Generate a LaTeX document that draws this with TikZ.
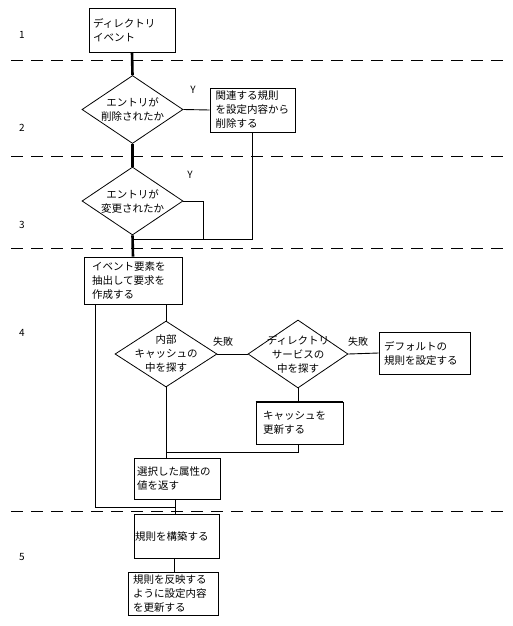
\documentclass[tikz,border=0pt]{standalone}
\usepackage{fontspec}
\setmainfont{Noto Sans CJK JP}
\usetikzlibrary{shapes.geometric}

\tikzset{
  proc/.style={draw, rectangle, line width=0.9pt, align=left, inner ysep=2pt,
    font=\fontsize{10.5}{14}\selectfont},
  decision/.style={draw, diamond, line width=0.8pt, inner sep=-20pt, align=center,
    font=\fontsize{10.5}{14}\selectfont},
  spine/.style={line width=2.6pt},
  link/.style={line width=0.9pt},
  phase/.style={line width=0.9pt, dash pattern=on 12pt off 8pt},
  phaselbl/.style={font=\fontsize{10}{12}\selectfont, inner sep=0pt},
  answer/.style={font=\fontsize{10}{12}\selectfont, inner sep=0pt},
}

\begin{document}
\begin{tikzpicture}[x=1pt, y=-1pt]
  \useasboundingbox (0,0) rectangle (512,626);
  % Phase separators and numbers
  \foreach \y in {60,156,248,511}
    \draw[phase] (11,\y) -- (503,\y);
  \foreach \n/\y in {1/35, 2/128, 3/225, 4/333, 5/557}
    \node[phaselbl] (ph\n) at (22,\y) {\n};
  % Steps
  \node[proc, text width=78pt, inner xsep=4pt, minimum height=44pt] (event) at (132,30) {ディレクトリ\\イベント};
  \node[decision, minimum width=101pt, minimum height=68pt] (del) at (132.5,109.5) {エントリが\\削除されたか};
  \node[proc, text width=74pt, inner xsep=5.5pt, minimum height=44pt] (rmrule) at (252.5,110) {関連する規則\\を設定内容から\\削除する};
  \node[decision, minimum width=101pt, minimum height=68pt] (chg) at (132.5,201) {エントリが\\変更されたか};
  \node[proc, text width=82pt, inner xsep=8pt, minimum height=47pt] (mkreq) at (133,280.5) {イベント要素を\\抽出して要求を\\作成する};
  \node[decision, minimum width=102pt, minimum height=66pt] (incache) at (166,354) {内部\\キャッシュの\\中を探す};
  \node[decision, minimum width=100pt, minimum height=68pt] (indir) at (298,354) {ディレクトリ\\サービスの\\中を探す};
  \node[proc, text width=81pt, inner xsep=5pt, minimum height=42pt] (dflt) at (424.5,353) {デフォルトの\\規則を設定する};
  \node[proc, text width=73pt, inner xsep=7pt, minimum height=42pt] (upd) at (299.5,423) {キャッシュを\\更新する};
  \node[proc, text width=80pt, inner xsep=3pt, minimum height=41pt] (ret) at (177,478.5) {選択した属性の\\値を返す};
  \node[proc, text width=83pt, inner xsep=1pt, minimum height=44pt] (build) at (176.5,536) {規則を構築する};
  \node[proc, text width=80pt, inner xsep=5pt, minimum height=43pt] (apply) at (173,593.5) {規則を反映する\\ように設定内容\\を更新する};
  \draw[line width=1.8pt] (upd.north west) -- (upd.north east);
  % Branch labels
  \node[answer] (yes1) at (193,90) {Y};
  \node[answer] (yes2) at (190,175) {Y};
  \node[answer] (fail1) at (223,342) {失敗};
  \node[answer] (fail2) at (358,342) {失敗};
  % Main spine
  \draw[spine] (event.south) -- (del.north);
  \draw[spine] (del.south) -- (chg.north);
  \draw[spine] (chg.south) -- (mkreq.north);
  % Change handling
  \coordinate (merge) at (132.5,239);
  \coordinate (chgend) at (203,239);
  \draw[link] (del.east) -- (rmrule.west);
  \draw[link] (rmrule.south) |- (merge);
  \draw[link] (chg.east) -| (chgend);
  % Lookup
  \draw[link] (mkreq.south -| incache.north) -- (incache.north);
  \draw[link] (incache.east) -- (indir.west);
  \draw[link] (indir.east) -- (dflt.west);
  \draw[link] (indir.south) -- (indir.south |- upd.north);
  \coordinate (hit) at (166,452);
  \draw[link] (upd.south -| indir.south) |- (hit);
  \draw[link] (incache.south) -- (incache.south |- ret.north);
  % Bypass and rule building
  \coordinate (bypass) at (175,507);
  \draw[link] (mkreq.south -| 95,0) |- (bypass);
  \draw[link] (bypass |- ret.south) -- (bypass |- build.north);
  \draw[link] (build.south -| 174,0) -- (apply.north -| 174,0);
\end{tikzpicture}
\end{document}
